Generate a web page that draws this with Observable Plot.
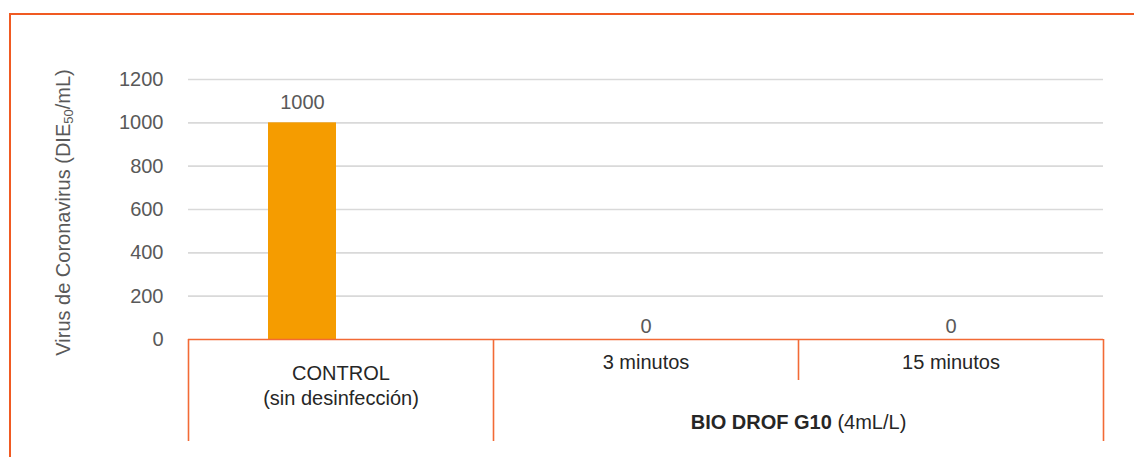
<!DOCTYPE html>
<html>
<head>
<meta charset="utf-8">
<script src="https://cdn.jsdelivr.net/npm/d3@7"></script>
<script src="https://cdn.jsdelivr.net/npm/@observablehq/plot@0.6"></script>
<style>
  body { margin: 0; background: #fff; }
  #wrap { position: relative; width: 1134px; height: 457px; }
  #frame { position: absolute; left: 9px; top: 13px; right: 0; bottom: 0;
           border-top: 2.5px solid #f05a22; border-left: 2.5px solid #f05a22;
           pointer-events: none; }
</style>
</head>
<body>
<div id="wrap"><div id="frame"></div></div>
<script>
// ---- data ----
const categories = ["CONTROL", "3 minutos", "15 minutos"];
const values = [1000, 0, 0];
const categoryLabels = ["CONTROL\n(sin desinfección)", "3 minutos", "15 minutos"];
const groupLabel = "BIO DROF G10 (4mL/L)";
const groupBold = "BIO DROF G10";
const groupMembers = ["3 minutos", "15 minutos"];
const yTicks = [0, 200, 400, 600, 800, 1000, 1200];
const yTitle = "Virus de Coronavirus (DIE50/mL)";

// ---- layout ----
const W = 1134, H = 457;
const mL = 188, mR = 31, mT = 79, mB = 118;
const bw = (W - mL - mR) / categories.length;
const unitsPerPx = yTicks[yTicks.length - 1] / (H - mT - mB);
const tier1 = -41 * unitsPerPx;   // depth of first label row
const tier2 = -102 * unitsPerPx;  // depth of second label row
const barInsetL = 80, barInsetR = 157;
const barShift = (barInsetL - barInsetR) / 2;

const data = categories.map((c, i) => ({cat: c, value: values[i], label: categoryLabels[i]}));

const orange = "#f26a35";
const font = "'Liberation Sans', Arial, Helvetica, sans-serif";

const chart = Plot.plot({
  width: W, height: H,
  marginLeft: mL, marginRight: mR, marginTop: mT, marginBottom: mB,
  style: {fontFamily: font, fontSize: "20px", color: "#595959", background: "transparent", overflow: "visible"},
  x: {domain: categories, padding: 0, axis: null},
  y: {domain: [0, 1200], ticks: yTicks, tickSize: 0, tickPadding: 25, tickFormat: d => String(d), label: null},
  marks: [
    // gridlines
    Plot.ruleY(yTicks.filter(v => v > 0), {stroke: "#d9d9d9", strokeWidth: 1.6}),
    // bars
    Plot.barY(data, {x: "cat", y: "value", fill: "#f59c00", insetLeft: barInsetL, insetRight: barInsetR}),
    // value labels
    Plot.text(data.filter(d => d.value > 0), {x: "cat", y: "value", text: d => String(d.value), dx: barShift, dy: -20, fontSize: 20, fill: "#595959"}),
    Plot.text(data.filter(d => d.value === 0), {x: "cat", y: "value", text: d => String(d.value), dy: -13, fontSize: 20, fill: "#595959"}),
    // category axis box
    Plot.ruleY([0], {stroke: orange, strokeWidth: 1.6}),
    Plot.ruleX(categories.filter(c => c !== groupMembers[1]), {x: d => d, dx: -bw / 2, y1: 0, y2: tier2, stroke: orange, strokeWidth: 1.6}),
    Plot.ruleX([groupMembers[1]], {x: d => d, dx: -bw / 2, y1: 0, y2: tier1, stroke: orange, strokeWidth: 1.6}),
    Plot.ruleX([categories[categories.length - 1]], {x: d => d, dx: bw / 2, y1: 0, y2: tier2, stroke: orange, strokeWidth: 1.6}),
    // category labels
    Plot.text(data.filter(d => d.cat === "CONTROL"), {x: "cat", y: 0, text: "label", dy: 45, lineHeight: 1.25, fontSize: 20, fill: "#262626"}),
    Plot.text(data.filter(d => groupMembers.includes(d.cat)), {x: "cat", y: 0, text: "label", dy: 23, fontSize: 20, fill: "#262626"}),
    Plot.text([groupLabel], {x: () => groupMembers[0], y: () => 0, text: d => d, dx: bw / 2, dy: 83, fontSize: 20, fill: "#262626"}),
    // y title
    Plot.text([yTitle], {text: d => d, frameAnchor: "left", textAnchor: "middle", dx: -125, dy: 3, rotate: -90, fontSize: 20, fill: "#595959"})
  ]
});

document.getElementById("wrap").appendChild(chart);

// rich text: subscript in y title, bold product name
const svgNS = "http://www.w3.org/2000/svg";
function tspan(txt, attrs) {
  const t = document.createElementNS(svgNS, "tspan");
  t.textContent = txt;
  for (const k in attrs) t.setAttribute(k, attrs[k]);
  return t;
}
const texts = Array.from(chart.querySelectorAll("text"));
const yt = texts.find(t => t.textContent === yTitle);
if (yt) {
  const i = yTitle.indexOf("50");
  yt.textContent = "";
  yt.appendChild(tspan(yTitle.slice(0, i), {}));
  yt.appendChild(tspan("50", {"font-size": "13px", dy: "3"}));
  yt.appendChild(tspan(yTitle.slice(i + 2), {dy: "-3"}));
}
const gl = texts.find(t => t.textContent === groupLabel);
if (gl) {
  gl.textContent = "";
  gl.appendChild(tspan(groupBold, {"font-weight": "bold"}));
  gl.appendChild(tspan(groupLabel.slice(groupBold.length), {}));
}
</script>
</body>
</html>
